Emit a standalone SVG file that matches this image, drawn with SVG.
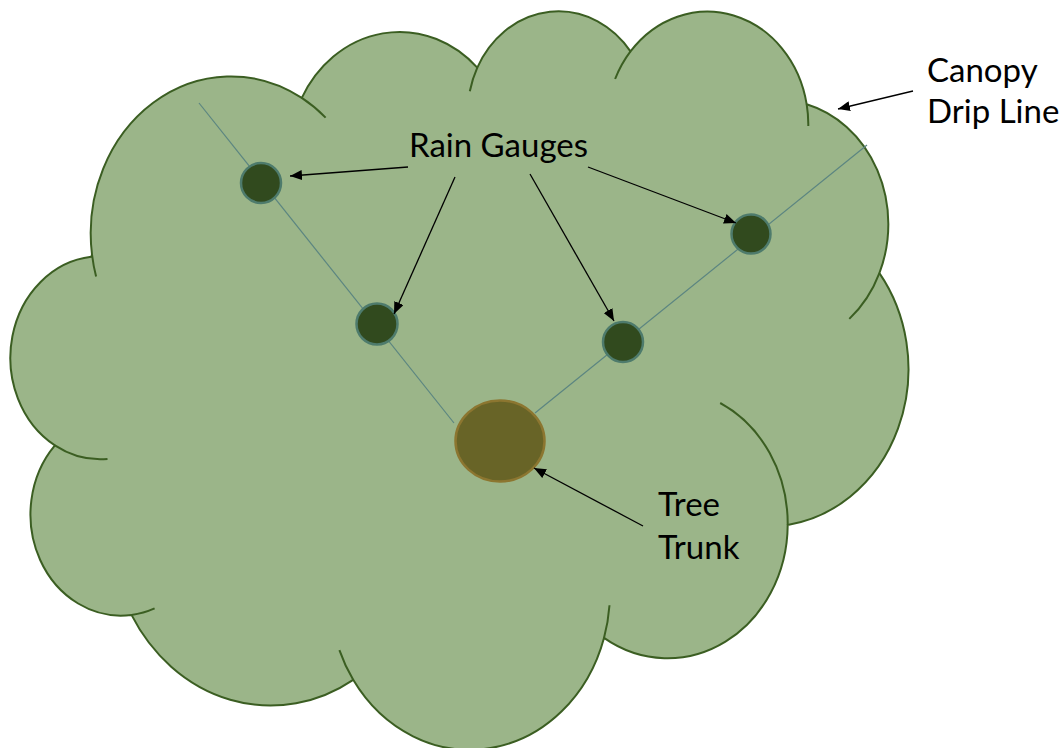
<svg xmlns="http://www.w3.org/2000/svg" width="1061" height="748" viewBox="0 0 1061 748">
  <style>
    .canopy { fill: #9bb589; stroke: #3b5e22; stroke-width: 2; stroke-linejoin: round; }
    .fold { fill: none; stroke: #3b5e22; stroke-width: 2; stroke-linecap: butt; }
    .transect { stroke: #5b8581; stroke-width: 1.2; fill: none; }
    .gauge { fill: #314a1e; stroke: #4e7b6c; stroke-width: 2.5; }
    .trunk { fill: #686427; stroke: #8c7630; stroke-width: 2.5; }
    .arrow { stroke: #000; stroke-width: 1.3; fill: none; marker-end: url(#head); }
    .label { font-family: "Lato", "Open Sans", sans-serif; font-size: 33px; fill: #000; }
  </style>
  <defs>
    <marker id="head" viewBox="0 0 12 10" refX="12" refY="5" markerWidth="12" markerHeight="10" markerUnits="userSpaceOnUse" orient="auto">
      <path d="M0,0 L12,5 L0,10 z" fill="#000"/>
    </marker>
  </defs>

  <!-- canopy outline: eleven elliptical lobes -->
  <g id="canopy">
    <path class="canopy" d="M92.0,254.5
      A140.22,156.99 0 0 1 301.8,97.9
      A110.73,124.14 0 0 1 477.3,67.6
      A90.63,101.56 0 0 1 630.5,51.4
      A100.85,112.66 0 0 1 806.7,104.3
      A110.73,124.24 0 0 1 879.4,273.1
      A140.68,157.5 0 0 1 787.7,524.9
      A120.12,134.39 0 0 1 604.0,637.9
      A140.2,157.42 0 0 1 353.2,679.8
      A160.3,180.11 0 0 1 131.5,614.9
      A90.53,101.1 0 0 1 54.9,445.4
      A90.22,101.56 0 0 1 91.2,256.8 Z"/>
    <!-- lobe overlaps continuing inside the outline -->
    <path class="fold" d="M107.5,459 A90.22,101.56 0 0 1 54.9,445.4
      M154.6,608.4 A90.53,101.1 0 0 1 131.5,614.9
      M353.2,679.8 A140.2,157.42 0 0 1 339.4,650.1
      M609.5,605.3 A140.2,157.42 0 0 1 604.0,637.9
      M720.2,403.0 A120.12,134.39 0 0 1 787.7,524.9
      M879.4,273.1 A110.73,124.24 0 0 1 849.3,318.9
      M806.7,104.3 A100.85,112.66 0 0 1 808.3,125.9
      M615.1,79.0 A100.85,112.66 0 0 1 630.5,51.4
      M469.8,91.3 A90.63,101.56 0 0 1 477.3,67.6
      M301.8,97.9 A140.22,156.99 0 0 1 325.6,117.6
      M96.1,276.6 A140.22,156.99 0 0 1 92.0,254.5"/>
  </g>

  <!-- sampling transects from the trunk to the drip line -->
  <g id="transects">
    <line class="transect" x1="199" y1="103" x2="454" y2="423"/>
    <line class="transect" x1="535" y1="413" x2="867" y2="145"/>
  </g>

  <g id="trunk">
    <ellipse class="trunk" cx="500" cy="441" rx="44.5" ry="40.5"/>
  </g>

  <g id="gauge-1"><circle class="gauge" cx="261" cy="183" r="20"/></g>
  <g id="gauge-2"><circle class="gauge" cx="377" cy="324" r="20.5"/></g>
  <g id="gauge-3"><circle class="gauge" cx="623" cy="342" r="20"/></g>
  <g id="gauge-4"><circle class="gauge" cx="751" cy="234" r="19.5"/></g>

  <g id="label-rain-gauges"><text class="label" x="409" y="157">Rain Gauges</text></g>
  <g id="label-canopy">
    <text class="label" x="927" y="82">Canopy</text>
    <text class="label" x="927" y="123">Drip Line</text>
  </g>
  <g id="label-trunk">
    <text class="label" x="658" y="516">Tree</text>
    <text class="label" x="658" y="559">Trunk</text>
  </g>

  <g id="connectors">
    <line class="arrow" x1="408" y1="167" x2="290" y2="176"/>
    <line class="arrow" x1="455" y1="177" x2="394" y2="314"/>
    <line class="arrow" x1="530" y1="174" x2="614" y2="321"/>
    <line class="arrow" x1="588" y1="167" x2="736" y2="223"/>
    <line class="arrow" x1="913" y1="91" x2="838" y2="109"/>
    <line class="arrow" x1="643" y1="526" x2="534" y2="468"/>
  </g>
</svg>
